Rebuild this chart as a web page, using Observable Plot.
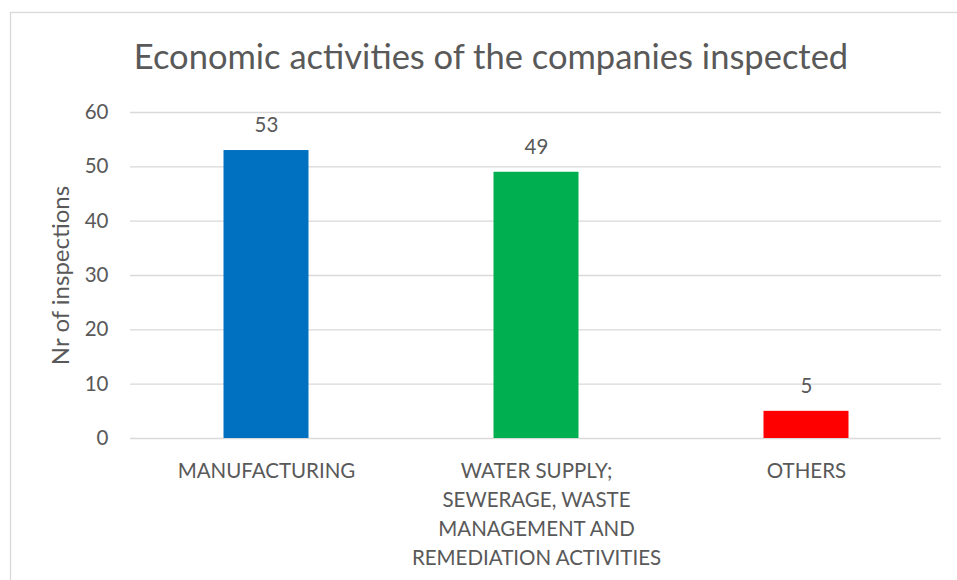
<!DOCTYPE html>
<html>
<head>
<meta charset="utf-8">
<script src="https://cdn.jsdelivr.net/npm/d3@7"></script>
<script src="https://cdn.jsdelivr.net/npm/@observablehq/plot@0.6"></script>
<style>
  body { margin: 0; background: #fff; }
  svg { display: block; }
</style>
</head>
<body>
<div id="chart"></div>
<script>
const categories = [
  "MANUFACTURING",
  "WATER SUPPLY;\nSEWERAGE, WASTE\nMANAGEMENT AND\nREMEDIATION ACTIVITIES",
  "OTHERS"
];
const values = [53, 49, 5];
const colors = ["#0070C0", "#00B050", "#FF0000"];
const yTicks = [0, 10, 20, 30, 40, 50, 60];
const title = "Economic activities of the companies inspected";
const yLabel = "Nr of inspections";

const data = categories.map((c, i) => ({category: c, value: values[i], color: colors[i]}));

const FONT = "Lato, 'Open Sans', sans-serif";
const TEXT = "#595959";

const chart = Plot.plot({
  width: 957,
  height: 580,
  marginLeft: 130,
  marginRight: 16,
  marginTop: 112,
  marginBottom: 142,
  style: {fontFamily: FONT, color: TEXT, background: "#fff"},
  x: {domain: categories, padding: 0},
  y: {domain: [0, 60], ticks: yTicks},
  marks: [
    Plot.gridY(yTicks, {stroke: "#d9d9d9", strokeOpacity: 1, strokeWidth: 1.3}),
    Plot.barY(data, {x: "category", y: "value", fill: "color", insetLeft: 92.5, insetRight: 92.5}),
    Plot.text(data, {x: "category", y: "value", text: d => String(d.value), dy: -25, fontSize: 20.5, fill: TEXT}),
    Plot.axisY({ticks: yTicks, tickSize: 0, tickPadding: 22, label: null, fontSize: 20.5, fill: TEXT}),
    Plot.axisX({tickSize: 0, tickPadding: 19, label: null, fontSize: 20.5, lineHeight: 1.42, fill: TEXT}),
    Plot.text([yLabel], {frameAnchor: "left", textAnchor: "middle", rotate: -90, dx: -69, fontSize: 24, fill: TEXT}),
    Plot.text([title], {frameAnchor: "top", lineAnchor: "middle", dy: -55, dx: -45, fontSize: 34.5, fill: TEXT})
  ]
});

d3.select(chart).insert("rect", ":first-child")
  .attr("x", 10.5).attr("y", 12.5).attr("width", 980).attr("height", 620)
  .attr("fill", "none").attr("stroke", "#d9d9d9").attr("stroke-width", 1.3);

document.getElementById("chart").appendChild(chart);
</script>
</body>
</html>
